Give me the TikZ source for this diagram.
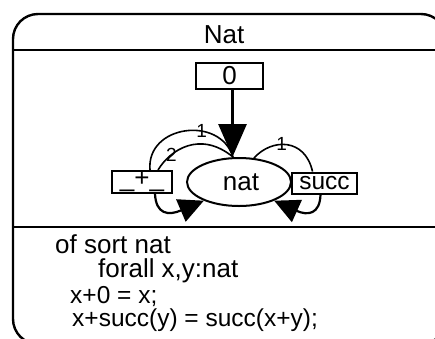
\documentclass[tikz,border=0pt]{standalone}
\usepackage{fontspec}
\setmainfont{Liberation Sans}
\usetikzlibrary{arrows.meta,shapes.geometric}
\begin{document}
\begin{tikzpicture}[x=1pt,y=-1pt,
  frame/.style={line width=2.4pt},
  rule/.style={line width=2pt},
  bigfont/.style={font=\fontsize{26}{26}\selectfont},
  eqfont/.style={font=\fontsize{24.5}{24.5}\selectfont},
  opbox/.style={draw, line width=2pt, rectangle, inner sep=0pt, bigfont},
  sortnode/.style={draw, line width=2pt, ellipse, inner sep=0pt, bigfont},
  argarc/.style={line width=1.6pt},
  argnum/.style={font=\fontsize{19}{19}\selectfont, inner sep=0pt},
  result/.style={line width=2.2pt, -{Triangle[length=25pt,width=24pt]}},
  body/.style={anchor=base west, inner sep=0pt, bigfont}
]
\useasboundingbox (0,0) rectangle (435,338);

% outer frame of the module (runs past the right and bottom edges)
\begin{scope}
  \clip (0,0) rectangle (435,338);
  \draw[frame, rounded corners=25pt] (13,14) rectangle (446,344);
  \draw[rule] (13,50) -- (440,50);
  \draw[rule] (13,227) -- (440,227);
\end{scope}

% module name
\node[bigfont, anchor=base, inner sep=0pt] (title) at (224,43) {Nat};

% sort and operations
\node[sortnode, minimum width=104pt, minimum height=48pt] (nat) at (239,182) {\hspace{4pt}nat};
\node[opbox, minimum width=67pt, minimum height=26pt] (zero) at (229.5,76) {0\hspace{16pt}};
\node[opbox, minimum width=60pt, minimum height=22pt] (plus) at (142,182) {\_+\_};
\node[opbox, minimum width=65pt, minimum height=21pt, eqfont] (succ) at (324.5,183) {succ};

% constant 0 : -> nat
\draw[line width=3pt, -{Triangle[length=33pt,width=28pt]}]
  ([xshift=3pt]zero.south) -- ([xshift=3pt]zero.south |- nat.north);

% argument arcs of _+_
\draw[argarc] ([xshift=8pt]plus.north) .. controls (146,125) and (220,115) .. ([xshift=-6pt]nat.north)
  node[argnum, pos=0.64] {1};
\draw[argarc] ([xshift=16pt]plus.north) .. controls (170,150) and (200,130) .. ([xshift=-6pt]nat.north)
  node[argnum, pos=0.27] {2};

% argument arc of succ
\draw[argarc] (nat.58) .. controls (272,138) and (305,138) .. ([xshift=-12pt]succ.north)
  node[argnum, pos=0.42] {1};

% result arrows back to the sort
\draw[result] ([xshift=13pt]plus.south) .. controls (156,214) and (168,216) .. (nat.208);
\draw[result] ([xshift=-4pt]succ.south) .. controls (320,214) and (308,216) .. (nat.332);

% equations
\node[body] (l1) at (55,253) {of sort nat};
\node[body] (l2) at (98,277) {forall x,y:nat};
\node[body, eqfont] (l3) at (70,303) {x+0 = x;};
\node[body, eqfont] (l4) at (72,326) {x+succ(y) = succ(x+y);};
\end{tikzpicture}
\end{document}
